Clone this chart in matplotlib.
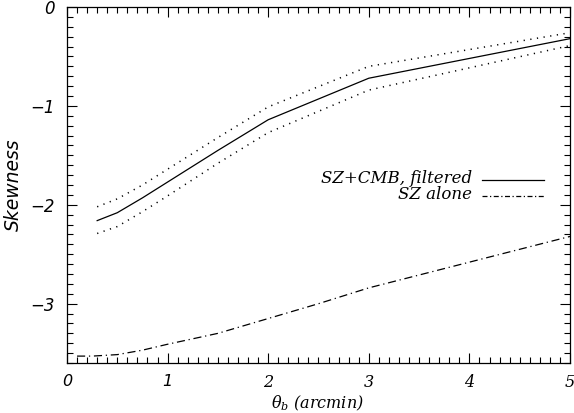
import matplotlib
matplotlib.use("Agg")
import matplotlib.pyplot as plt
from matplotlib.ticker import MultipleLocator

plt.rcParams["mathtext.fontset"] = "dejavuserif"

# Filtered SZ+CMB skewness with its 1-sigma envelope
theta_f = [0.3, 0.5, 0.75, 1.0, 1.5, 2.0, 3.0, 5.0]
skew_f = [-2.16, -2.08, -1.93, -1.77, -1.45, -1.14, -0.72, -0.32]
skew_f_hi = [-2.02, -1.94, -1.80, -1.64, -1.32, -1.01, -0.60, -0.26]
skew_f_lo = [-2.29, -2.22, -2.07, -1.91, -1.58, -1.27, -0.84, -0.39]

# SZ signal on its own
theta_sz = [0.1, 0.25, 0.5, 0.75, 1.0, 1.5, 2.0, 2.5, 3.0, 3.5, 4.0, 4.5, 5.0]
skew_sz = [-3.53, -3.53, -3.515, -3.47, -3.41, -3.30, -3.15, -3.00, -2.84,
           -2.71, -2.58, -2.45, -2.32]

xticks = [0, 1, 2, 3, 4, 5]
xtick_labels = ["0", "1", "2", "3", "4", "5"]
yticks = [-3, -2, -1, 0]
ytick_labels = ["\u22123", "\u22122", "\u22121", "0"]

fig = plt.figure(figsize=(5.74, 4.13), dpi=100)
ax = fig.add_axes([0.1167, 0.121, 0.8763, 0.862])

ax.plot(theta_f, skew_f, color="black", lw=0.9)
ax.plot(theta_f, skew_f_hi, color="black", lw=1.1, linestyle=(0, (0.8, 3.6)))
ax.plot(theta_f, skew_f_lo, color="black", lw=1.1, linestyle=(0, (0.8, 3.6)))
ax.plot(theta_sz, skew_sz, color="black", lw=0.9,
        linestyle=(0, (6.5, 3, 1, 3)))

ax.set_xlim(0, 5)
ax.set_ylim(-3.6, 0)
ax.set_xticks(xticks)
ax.set_xticklabels(xtick_labels)
ax.set_yticks(yticks)
ax.set_yticklabels(ytick_labels)
ax.xaxis.set_minor_locator(MultipleLocator(0.1))
ax.yaxis.set_minor_locator(MultipleLocator(0.1))
ax.tick_params(which="both", direction="in", top=True, right=True,
               width=0.8, color="black")
ax.tick_params(which="major", length=7)
ax.tick_params(which="minor", length=4)
ax.tick_params(axis="x", pad=8)
ax.tick_params(axis="y", pad=9)

for lab in ax.get_yticklabels():
    lab.set_fontfamily("DejaVu Sans")
    lab.set_fontstyle("oblique")
    lab.set_fontsize(12)
for i, lab in enumerate(ax.get_xticklabels()):
    if i < 2:
        lab.set_fontfamily("DejaVu Sans")
        lab.set_fontstyle("oblique")
    else:
        lab.set_fontfamily("DejaVu Serif")
        lab.set_fontstyle("italic")
    lab.set_fontsize(11.5)

for s in ax.spines.values():
    s.set_linewidth(0.9)

ax.set_ylabel("Skewness", fontsize=13.5, fontstyle="oblique",
              family="DejaVu Sans")
ax.yaxis.set_label_coords(-0.088, 0.5)
ax.set_xlabel(r"$\theta_\mathit{b}$ (arcmin)", fontsize=11.5,
              fontstyle="italic", family="DejaVu Serif")
ax.xaxis.set_label_coords(0.497, -0.085)

# Legend drawn by hand: right-aligned labels with a line sample after each
leg_items = [("SZ+CMB, filtered", "-"), ("SZ alone", (0, (4, 2, 1, 2)))]
for k, (txt, ls) in enumerate(leg_items):
    ty = -1.735 - k * 0.165
    ax.text(4.03, ty, txt, ha="right", va="center", fontsize=12,
            family="DejaVu Serif", fontstyle="italic")
    ax.plot([4.13, 4.74], [ty - 0.01, ty - 0.01], color="black", lw=0.9,
            linestyle=ls)

fig.savefig("out.png", dpi=100)
